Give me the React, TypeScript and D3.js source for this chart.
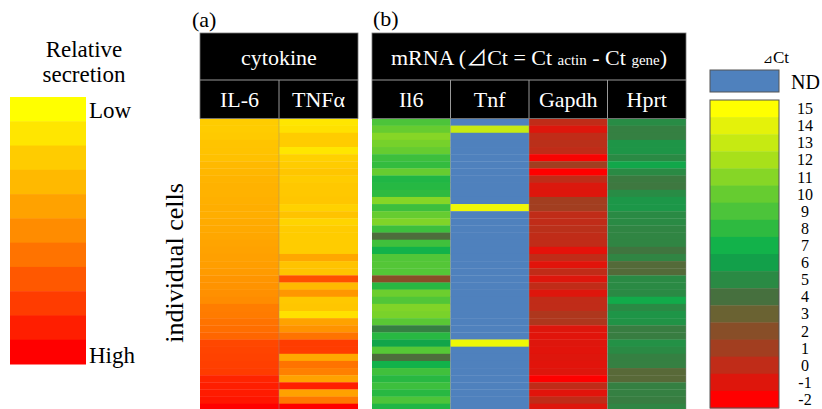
import React, { useEffect, useRef } from "react";
import * as d3 from "d3";

// legend levels / colours
const ctLevels = [15, 14, 13, 12, 11, 10, 9, 8, 7, 6, 5, 4, 3, 2, 1, 0, -1, -2];
const ctColors = [
  "#FFFF00", "#E4F20A", "#C6EA12", "#A8E01A", "#86D626", "#66CC30",
  "#4CC43A", "#2EBA40", "#12B24A", "#12A04A", "#2A8A44", "#46703E",
  "#6A6232", "#884E28", "#A23E20", "#C02C18", "#DE160C", "#FF0000"
];
const ndColor = "#4F81BD";

// relative secretion: 0 = Low ... 10 = High
const secretionLevels = [0, 1, 2, 3, 4, 5, 6, 7, 8, 9, 10];
const secretionColors = [
  "#FFFF00", "#FFE600", "#FFCC00", "#FFB900", "#FFA200", "#FF8C00",
  "#FF7300", "#FF5800", "#FF3C00", "#FF1E00", "#FF0000"
];

const cytokineCols = ["IL-6", "TNFα"];
const mrnaCols = ["Il6", "Tnf", "Gapdh", "Hprt"];

// per cell values (41 cells, top to bottom)
const il6Secretion = [
  2.0, 2.0, 2.1, 2.4, 2.5, 2.6, 3.0, 3.1, 3.2, 3.3, 3.3, 3.4, 3.5, 3.5, 3.6, 3.7, 3.8, 3.9, 4.0, 4.1,
  4.2, 4.3, 4.6, 4.7, 4.8, 5.0, 5.6, 5.7, 6.0, 6.2, 6.5, 7.6, 7.7, 7.8, 7.9, 8.0, 8.8, 9.0, 9.1, 9.3, 10
];
const tnfSecretion = [
  1.0, 1.2, 2.0, 2.0, 1.0, 1.8, 2.0, 2.3, 2.0, 2.2, 2.2, 2.3, 1.8, 2.5, 1.7, 2.0, 2.0, 2.0, 2.0, 3.8,
  2.5, 2.5, 7.3, 3.0, 4.5, 2.2, 2.3, 1.2, 4.0, 4.7, 6.0, 8.0, 8.0, 3.8, 6.0, 5.5, 4.0, 9.0, 4.0, 5.8, 10
];
const il6Ct = [
  9, 10, 11, 10.5, 10, 8.5, 8.2, 10, 7.5, 7.7, 8, 11, 8.5, 10, 10.8, 8.5, 3.8, 8.6, 7, 9.2,
  9.3, 9.3, 2, 7.8, 10.2, 9.2, 10.8, 10.6, 9.5, 4.6, 7.8, 6.3, 9.4, 3.8, 7, 8.6, 7.8, 8.5, 7.8, 9, 7.5
];
const tnfCt = [
  null, 13, null, null, null, null, null, null, null, null, null, null, 14.4, null, null, null, null, null, null, null,
  null, null, null, null, null, null, null, null, null, null, null, 14.4, null, null, null, null, null, null, null, null, null
];
const gapdhCt = [
  0, -1, 0, 0.2, 0, -1.8, 1, -2, 0, -0.9, -1, 1, 1, 0, 0, 0.2, 0, 0, -1.2, 0,
  -1.1, 0, -1, 0, -1, 0, 0, 0.6, 0.6, -1, -1.1, -1, -1.1, -1, -1.1, -1, -2, 0, -1.1, 0, -1
];
const hprtCt = [
  5.1, 4.6, 4.6, 5.5, 5.5, 5, 6.4, 5, 4.4, 4.3, 5.1, 5.6, 5.6, 5, 5, 4.8, 4.8, 4.8, 4.2, 4.8,
  3.6, 3.6, 5, 5, 5, 6.6, 5, 5.5, 5.4, 4.5, 4.5, 5.3, 5, 4.6, 4.6, 3.5, 3.5, 4.6, 4.6, 4.5, 4.8
];

const W = 822, H = 409;
const font = "'Liberation Serif', 'Times New Roman', serif";

export default function App() {
  const ref = useRef<SVGSVGElement>(null);

  useEffect(() => {
    document.body.style.margin = "0";
    const svg = d3.select(ref.current);
    svg.selectAll("*").remove();

    const ctColor = d3.scaleLinear<string>().domain(ctLevels).range(ctColors).clamp(true);
    const secColor = d3.scaleLinear<string>().domain(secretionLevels).range(secretionColors).clamp(true);

    const nRows = il6Secretion.length;
    const heatTop = 118.5, rowH = 7.13;
    const rowY = d3.scaleBand<number>().domain(d3.range(nRows)).range([heatTop, heatTop + nRows * rowH]);
    const colA = d3.scaleBand().domain(cytokineCols).range([200, 358]);
    const colB = d3.scaleBand().domain(mrnaCols).range([372, 686]);

    // ---- left legend (relative secretion)
    const secY = d3.scaleBand<number>().domain(secretionLevels).range([97, 364]);
    svg.append("g").selectAll("rect").data(secretionLevels).enter().append("rect")
      .attr("x", 10).attr("width", 76)
      .attr("y", d => secY(d)!).attr("height", secY.bandwidth() + 0.5)
      .attr("fill", d => secColor(d));
    const lt = svg.append("text").attr("font-family", font).attr("font-size", 23)
      .attr("text-anchor", "middle");
    lt.append("tspan").attr("x", 84).attr("y", 57).text("Relative");
    lt.append("tspan").attr("x", 84).attr("y", 82).text("secretion");
    svg.append("text").attr("x", 89).attr("y", 118).attr("font-family", font).attr("font-size", 23).text("Low");
    svg.append("text").attr("x", 89).attr("y", 363).attr("font-family", font).attr("font-size", 23).text("High");

    svg.append("text").attr("transform", "translate(183,263) rotate(-90)")
      .attr("text-anchor", "middle").attr("font-family", font).attr("font-size", 26)
      .text("individual cells");

    // ---- heatmaps
    const drawColumn = (x: number, w: number, vals: (number | null)[], color: (v: number) => string) => {
      svg.append("g").selectAll("rect").data(vals).enter().append("rect")
        .attr("x", x).attr("width", w)
        .attr("y", (d, i) => rowY(i)!).attr("height", rowH + 0.3)
        .attr("fill", d => (d == null ? ndColor : color(d)));
    };
    drawColumn(colA("IL-6")!, colA.bandwidth(), il6Secretion, secColor);
    drawColumn(colA("TNFα")!, colA.bandwidth(), tnfSecretion, secColor);
    drawColumn(colB("Il6")!, colB.bandwidth(), il6Ct, ctColor);
    drawColumn(colB("Tnf")!, colB.bandwidth(), tnfCt, ctColor);
    drawColumn(colB("Gapdh")!, colB.bandwidth(), gapdhCt, ctColor);
    drawColumn(colB("Hprt")!, colB.bandwidth(), hprtCt, ctColor);

    // faint column separators
    [colA("TNFα")!, colB("Tnf")!, colB("Gapdh")!, colB("Hprt")!, 686].forEach(x => {
      svg.append("line").attr("x1", x).attr("x2", x).attr("y1", heatTop).attr("y2", H)
        .attr("stroke", "rgba(140,140,140,0.45)").attr("stroke-width", 1);
    });

    // ---- header boxes
    const header = (x0: number, x1: number, cols: string[], scale: d3.ScaleBand<string>) => {
      const g = svg.append("g");
      g.append("rect").attr("x", x0).attr("y", 33).attr("width", x1 - x0).attr("height", 85.5)
        .attr("fill", "#000").attr("stroke", "#777").attr("stroke-width", 0.8);
      g.append("line").attr("x1", x0).attr("x2", x1).attr("y1", 80).attr("y2", 80)
        .attr("stroke", "#999").attr("stroke-width", 1);
      cols.slice(1).forEach(c => {
        g.append("line").attr("x1", scale(c)!).attr("x2", scale(c)!).attr("y1", 80).attr("y2", 118.5)
          .attr("stroke", "#999").attr("stroke-width", 1);
      });
      g.selectAll("text.col").data(cols).enter().append("text").attr("class", "col")
        .attr("x", d => scale(d)! + scale.bandwidth() / 2).attr("y", 107)
        .attr("text-anchor", "middle").attr("fill", "#fff")
        .attr("font-family", font).attr("font-size", 22).text(d => d);
      return g;
    };
    const ga = header(200, 358, cytokineCols, colA);
    ga.append("text").attr("x", 279).attr("y", 65).attr("text-anchor", "middle").attr("fill", "#fff")
      .attr("font-family", font).attr("font-size", 22).text("cytokine");
    const gb = header(372, 686, mrnaCols, colB);
    const mt = gb.append("text").attr("x", 529).attr("y", 65).attr("text-anchor", "middle").attr("fill", "#fff")
      .attr("font-family", font).attr("font-size", 22);
    mt.append("tspan").text("mRNA (");
    mt.append("tspan").attr("font-family", "'Noto Sans CJK JP', 'DejaVu Sans', sans-serif").attr("font-size", 21).text("⊿");
    mt.append("tspan").text("Ct = Ct ");
    mt.append("tspan").attr("font-size", 15).text("actin");
    mt.append("tspan").text(" - Ct ");
    mt.append("tspan").attr("font-size", 15).text("gene");
    mt.append("tspan").text(")");

    svg.append("text").attr("x", 192).attr("y", 27).attr("font-family", font).attr("font-size", 22).text("(a)");
    svg.append("text").attr("x", 373).attr("y", 26).attr("font-family", font).attr("font-size", 22).text("(b)");

    // ---- right legend (delta Ct)
    const ctT = svg.append("text").attr("x", 776).attr("y", 63).attr("text-anchor", "middle")
      .attr("font-family", font).attr("font-size", 17);
    ctT.append("tspan").attr("font-family", "'DejaVu Sans', sans-serif").attr("font-size", 12).text("⊿");
    ctT.append("tspan").text("Ct");
    svg.append("rect").attr("x", 710).attr("y", 70).attr("width", 69).attr("height", 22)
      .attr("fill", ndColor).attr("stroke", "#555").attr("stroke-width", 1);
    svg.append("text").attr("x", 791).attr("y", 89).attr("font-family", font).attr("font-size", 20).text("ND");

    const legY = d3.scaleBand<number>().domain(ctLevels).range([100, 408]);
    svg.append("g").selectAll("rect").data(ctLevels).enter().append("rect")
      .attr("x", 710).attr("width", 69)
      .attr("y", d => legY(d)!).attr("height", legY.bandwidth() + 0.4)
      .attr("fill", (d, i) => ctColors[i]);
    svg.append("rect").attr("x", 710).attr("y", 100).attr("width", 69).attr("height", 308)
      .attr("fill", "none").attr("stroke", "#555").attr("stroke-width", 1);
    svg.append("g").selectAll("text").data(ctLevels).enter().append("text")
      .attr("x", 805).attr("y", d => legY(d)! + legY.bandwidth() / 2 + 5.5)
      .attr("text-anchor", "middle").attr("font-family", font).attr("font-size", 16)
      .text(d => String(d));
  }, []);

  return <svg ref={ref} width={W} height={H} style={{ display: "block", background: "#fff" }} />;
}
